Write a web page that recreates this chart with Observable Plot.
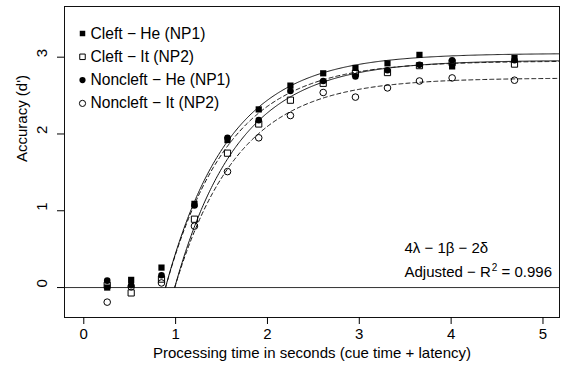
<!DOCTYPE html>
<html>
<head>
<meta charset="utf-8">
<script src="https://cdn.jsdelivr.net/npm/d3@7"></script>
<script src="https://cdn.jsdelivr.net/npm/@observablehq/plot@0.6"></script>
<style>
  html, body { margin: 0; padding: 0; background: #fff; }
  #chart svg { display: block; font-family: "Liberation Sans", Arial, Helvetica, sans-serif; }
</style>
</head>
<body>
<div id="chart"></div>
<script>
// ---- data ----
const time = [0.255, 0.516, 0.846, 1.205, 1.565, 1.905, 2.25, 2.607, 2.958, 3.307, 3.655, 4.011, 4.69];
const seriesNames = ["Cleft − He (NP1)", "Cleft − It (NP2)", "Noncleft − He (NP1)", "Noncleft − It (NP2)"];
const cleftHe    = [0.00, 0.10, 0.26, 1.09, 1.92, 2.32, 2.63, 2.79, 2.86, 2.92, 3.03, 2.88, 2.99];
const cleftIt    = [0.03, -0.07, 0.11, 0.89, 1.75, 2.13, 2.44, 2.66, 2.79, 2.80, 2.89, 2.93, 2.91];
const noncleftHe = [0.09, 0.03, 0.16, 1.07, 1.95, 2.18, 2.56, 2.69, 2.75, 2.83, 2.90, 2.96, 2.96];
const noncleftIt = [-0.19, 0.01, 0.06, 0.80, 1.51, 1.95, 2.24, 2.54, 2.48, 2.60, 2.69, 2.73, 2.70];
// fitted model 4λ-1β-2δ (parameters estimated from the drawn curves)
const lambda = [3.05, 2.95, 2.96, 2.73];
const beta = 1.45;
const delta = [0.89, 0.89, 0.99, 0.99];
const xTicks = [0, 1, 2, 3, 4, 5];
const yTicks = [0, 1, 2, 3];
const annot1 = "4λ − 1β − 2δ";
const annot2 = ["Adjusted − R", "2", " = 0.996"];
const xLabel = "Processing time in seconds (cue time + latency)";
const yLabel = "Accuracy (d')";

// ---- build tables ----
const values = [cleftHe, cleftIt, noncleftHe, noncleftIt];
const symbols = ["square", "square", "circle", "circle"];
const filled = [true, false, true, false];
const dashed = [false, true, false, true];
const xMax = 5.18;

const points = [];
values.forEach((vals, s) => vals.forEach((v, i) => points.push({s, t: time[i], v})));

const curves = seriesNames.map((name, s) =>
  d3.range(delta[s], xMax + 0.01, 0.01).map(t => ({t, v: lambda[s] * (1 - Math.exp(-beta * (t - delta[s])))}))
);

const font = 15;
const marks = [
  Plot.ruleY([0], {stroke: "#333", strokeWidth: 1}),
  ...curves.map((c, s) => Plot.line(c, {x: "t", y: "v", stroke: "#111", strokeWidth: 1, strokeDasharray: dashed[s] ? "4,3" : null})),
  ...seriesNames.map((name, s) => Plot.dot(points.filter(p => p.s === s), {
    x: "t", y: "v", symbol: () => symbols[s],
    r: symbols[s] === "square" ? 3.5 : 3.3,
    fill: filled[s] ? "#000" : "none",
    stroke: filled[s] ? "none" : "#000",
    strokeWidth: 1
  })),
  Plot.frame({stroke: "#111", strokeWidth: 1}),
  Plot.axisX({ticks: xTicks, tickSize: 7, tickPadding: 4, fontSize: font, label: null, tickFormat: d => String(d)}),
  Plot.axisY({ticks: yTicks, tickSize: 7, tickFormat: () => "", label: null}),
  Plot.text(yTicks, {y: d => d, text: d => String(d), frameAnchor: "left", dx: -22, rotate: -90, fontSize: font}),
  Plot.text([yLabel], {frameAnchor: "left", dx: -42, rotate: -90, fontSize: font}),
  Plot.text([xLabel], {frameAnchor: "bottom", dy: 40, fontSize: font}),
  // legend
  ...seriesNames.map((name, s) => Plot.dot([name], {
    frameAnchor: "top-left", dx: 18, dy: 27 + s * 23.3,
    symbol: () => symbols[s], r: 3.1,
    fill: filled[s] ? "#000" : "none", stroke: filled[s] ? "none" : "#000", strokeWidth: 1
  })),
  ...seriesNames.map((name, s) => Plot.text([name], {
    frameAnchor: "top-left", dx: 26, dy: 27 + s * 23.3, textAnchor: "start", lineAnchor: "middle", fontSize: 15.6, fill: "#000"
  })),
  Plot.text([annot1], {frameAnchor: "top-left", dx: 340, dy: 242, textAnchor: "start", lineAnchor: "middle", fontSize: font}),
  Plot.text([annot2.join("")], {frameAnchor: "top-left", dx: 340, dy: 266, textAnchor: "start", lineAnchor: "middle", fontSize: font, className: "annot2"})
];

const chart = Plot.plot({
  width: 563,
  height: 370,
  marginLeft: 64,
  marginRight: 4,
  marginTop: 6,
  marginBottom: 53,
  style: {fontFamily: '"Liberation Sans", Arial, Helvetica, sans-serif', fontSize: "15px", color: "#000", background: "#fff"},
  x: {domain: [-0.21, xMax]},
  y: {domain: [-0.39, 3.66]},
  marks
});
// typeset the superscript of R²
d3.select(chart).selectAll("g.annot2 text").each(function () {
  const t = d3.select(this);
  t.text(null);
  t.append("tspan").text(annot2[0]);
  t.append("tspan").attr("dy", -6).attr("dx", 1).attr("font-size", "10px").text(annot2[1]);
  t.append("tspan").attr("dy", 6).text(annot2[2]);
});
document.getElementById("chart").appendChild(chart);
</script>
</body>
</html>
